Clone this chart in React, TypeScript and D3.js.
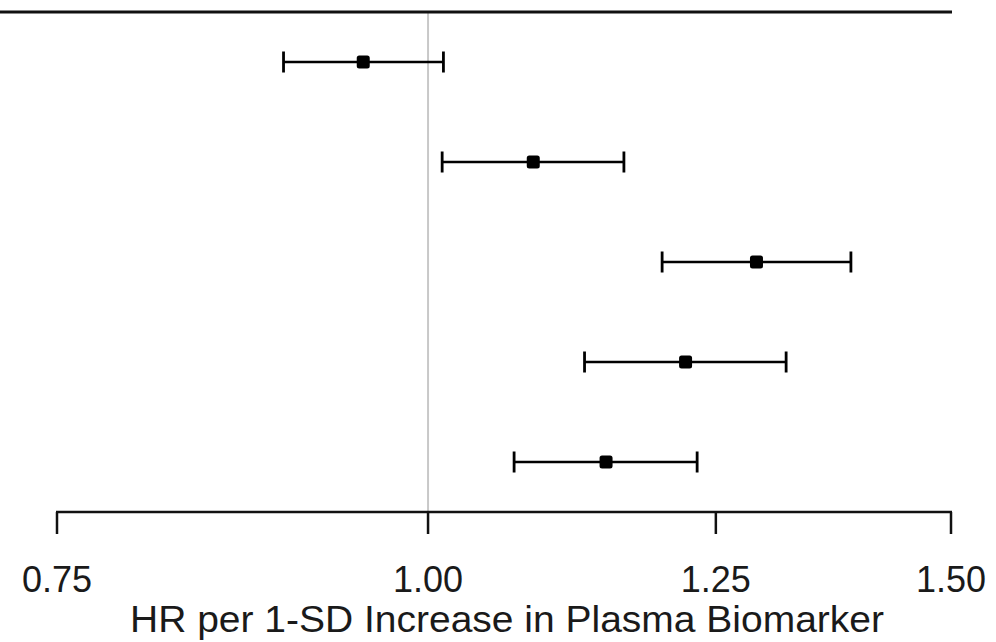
import React from "react";
import * as d3 from "d3";

const rows = ["r1", "r2", "r3", "r4", "r5"];
const estimates = [0.951, 1.085, 1.29, 1.221, 1.148];
const lower = [0.894, 1.011, 1.199, 1.129, 1.069];
const upper = [1.012, 1.164, 1.388, 1.32, 1.232];
const tickValues = [0.75, 1.0, 1.25, 1.5];
const tickLabels = ["0.75", "1.00", "1.25", "1.50"];
const xTitle = "HR per 1-SD Increase in Plasma Biomarker";

export default function App() {
  const W = 996;
  const H = 642;
  const x = d3.scaleLog().domain([0.75, 1.5]).range([57, 951]);
  const y = d3.scaleBand().domain(rows).range([12, 512]).padding(0);
  const axisY = 512;
  const font = "'Liberation Sans', Arial, sans-serif";
  return (
    <svg
      width={W}
      height={H}
      style={{ position: "absolute", left: 0, top: 0, background: "#fff" }}
    >
      <rect x={0} y={0} width={W} height={H} fill="#fff" />
      {/* reference line at HR = 1 */}
      <line x1={x(1)} x2={x(1)} y1={12} y2={axisY} stroke="#c8c8c8" strokeWidth={2} />
      {/* top border */}
      <line x1={0} x2={x(1.5) + 1} y1={12} y2={12} stroke="#111" strokeWidth={2.8} />
      {/* rows */}
      {rows.map((r, i) => {
        const cy = (y(r) as number) + y.bandwidth() / 2;
        return (
          <g key={r}>
            <line x1={x(lower[i])} x2={x(upper[i])} y1={cy} y2={cy} stroke="#000" strokeWidth={2.5} />
            <line x1={x(lower[i])} x2={x(lower[i])} y1={cy - 10.5} y2={cy + 10.5} stroke="#000" strokeWidth={2.8} />
            <line x1={x(upper[i])} x2={x(upper[i])} y1={cy - 10.5} y2={cy + 10.5} stroke="#000" strokeWidth={2.8} />
            <rect x={x(estimates[i]) - 6.5} y={cy - 6.5} width={13} height={13} rx={2.5} fill="#000" />
          </g>
        );
      })}
      {/* x axis */}
      <line x1={x(0.75) - 1} x2={x(1.5) + 1} y1={axisY} y2={axisY} stroke="#111" strokeWidth={2.5} />
      {tickValues.map((t, i) => (
        <g key={t}>
          <line x1={x(t)} x2={x(t)} y1={axisY} y2={axisY + 22} stroke="#111" strokeWidth={2.5} />
          <text
            x={x(t)}
            y={592}
            textAnchor="middle"
            fontFamily={font}
            fontSize={36}
            fill="#1a1a1a"
          >
            {tickLabels[i]}
          </text>
        </g>
      ))}
      <text
        x={(x(0.75) + x(1.5)) / 2 + 3}
        y={632}
        textAnchor="middle"
        fontFamily={font}
        fontSize={37}
        textLength={754}
        lengthAdjust="spacingAndGlyphs"
        fill="#1a1a1a"
      >
        {xTitle}
      </text>
    </svg>
  );
}
